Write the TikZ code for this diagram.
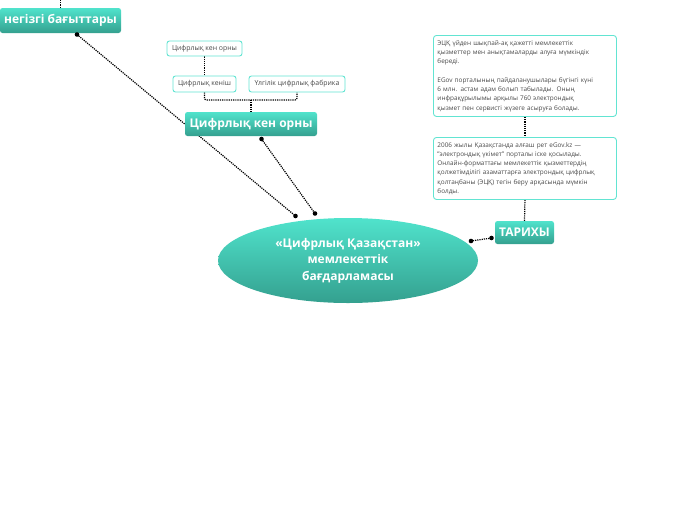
\documentclass[tikz,border=0pt]{standalone}
\usepackage{fontspec}
\usetikzlibrary{shapes.geometric,backgrounds}
\setmainfont{Open Sans}
\definecolor{tealtop}{HTML}{50E3CC}
\definecolor{tealbot}{HTML}{34A08F}
\definecolor{boxline}{HTML}{62E4D2}
\definecolor{txtgray}{HTML}{4A4A4A}
\tikzset{
  mainbox/.style={draw=none, rounded corners=2.5pt, top color=tealtop, bottom color=tealbot,
    text=white, font=\fontsize{12}{14}\selectfont\bfseries, inner sep=0pt},
  smallbox/.style={draw=boxline, line width=0.9pt, rounded corners=2.5pt, fill=white,
    text=txtgray, font=\fontsize{6.9}{8}\selectfont, inner sep=0pt},
  textbox/.style={draw=boxline, line width=0.9pt, rounded corners=3pt, fill=white,
    text=txtgray, font=\fontsize{6.4}{9.3}\selectfont, align=left, inner sep=4pt, anchor=north west},
  conn/.style={line width=1.2pt, densely dotted, black},
  brk/.style={line width=1.2pt, densely dotted, black, rounded corners=2pt},
  enddot/.style={fill=black, draw=none}
}
\begin{document}
\begin{tikzpicture}[x=1pt,y=-1pt]
\useasboundingbox (0,0) rectangle (696,520);
% nodes
\node[mainbox, minimum width=121pt, minimum height=25pt] (neg) at (60.5,20.5) {негізгі бағыттары};
\node[mainbox, minimum width=132pt, minimum height=24pt] (ken) at (251,124) {Цифрлық кен орны};
\node[mainbox, minimum width=59pt, minimum height=23pt] (tar) at (524.5,232.5) {ТАРИХЫ};
\node[ellipse, draw=none, top color=tealtop, bottom color=tealbot, minimum width=260pt, minimum height=85pt,
  text=white, font=\fontsize{12}{16.5}\selectfont\bfseries, align=center, inner sep=0pt] (ell) at (348,260.5)
  {«Цифрлық Қазақстан»\\мемлекеттік\\бағдарламасы};
\node[smallbox, minimum width=75pt, minimum height=15pt] (s1) at (204.5,48.5) {Цифрлық кен орны};
\node[smallbox, minimum width=63pt, minimum height=16pt] (s2) at (204.5,84) {Цифрлық кеніш};
\node[smallbox, minimum width=96pt, minimum height=16pt] (s3) at (297,84) {Үлгілік цифрлық фабрика};
\node[textbox, text width=175pt, minimum height=81pt] (t1) at (433,35)
  {ЭЦҚ үйден шықпай-ақ қажетті мемлекеттік\\қызметтер мен анықтамаларды алуға мүмкіндік\\береді.\\[9.3pt]EGov порталының пайдаланушылары бүгінгі күні\\6 млн. астам адам болып табылады. Оның\\инфрақұрылымы арқылы 760 электрондық\\қызмет пен сервисті жүзеге асыруға болады.};
\node[textbox, text width=175pt, minimum height=62pt] (t2) at (433,137)
  {2006 жылы Қазақстанда алғаш рет eGov.kz —\\"электрондық үкімет" порталы іске қосылады.\\Онлайн-форматтағы мемлекеттік қызметтердің\\қолжетімділігі азаматтарға электрондық цифрлық\\қолтаңбаны (ЭЦҚ) тегін беру арқасында мүмкін\\болды.};
% connector end points
\coordinate (a1) at (77,34.5);
\coordinate (a2) at (295.5,216);
\coordinate (b1) at (261.5,139);
\coordinate (b2) at (315,213.5);
\coordinate (c1) at (491.5,238);
\coordinate (c2) at (471,241);
\coordinate (top) at (60.5,0);
\coordinate (bj) at (251,100);
% connectors
\begin{pgfonlayer}{background}
\draw[conn] (top) -- (neg.north);
\draw[conn] (a1) -- (a2);
\draw[conn] (b1) -- (b2);
\draw[conn] (c1) -- (c2);
\draw[conn] (s1.south) -- (s2.north);
\draw[brk] (s2.south) |- (bj) -| (s3.south);
\draw[conn] (bj) -- (ken.north);
\draw[conn] (t1.south) -- (t2.north);
\draw[conn] (t2.south) -- (tar.north);
\end{pgfonlayer}
\foreach \p in {a1,a2,b1,b2,c1,c2} \fill[enddot] (\p) circle (2.3pt);
\end{tikzpicture}
\end{document}
